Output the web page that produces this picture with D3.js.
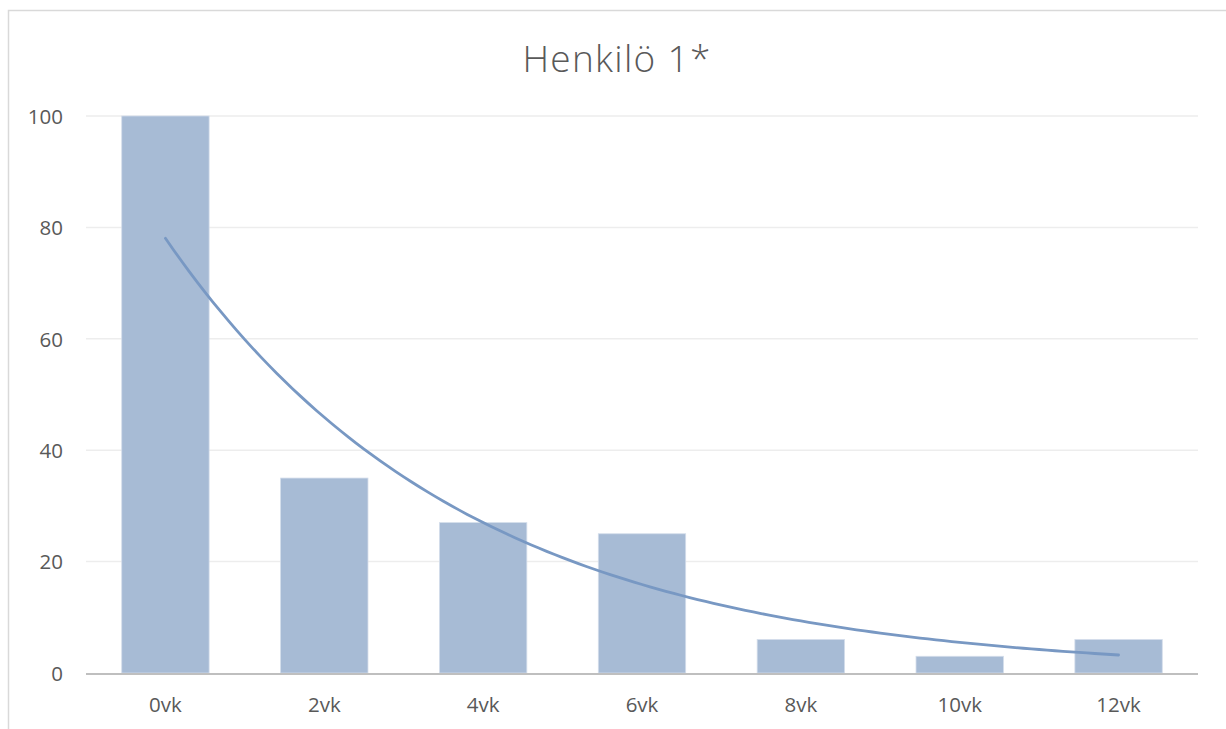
<!DOCTYPE html>
<html>
<head>
<meta charset="utf-8">
<script src="https://cdn.jsdelivr.net/npm/d3@7"></script>
<style>
  html, body { margin: 0; padding: 0; background: #fff; }
  svg { display: block; }
</style>
</head>
<body>
<svg id="chart" width="1226" height="729"></svg>
<script>
// Weekly measurements for person 1
const title = "Henkilö 1*";
const categories = ["0vk", "2vk", "4vk", "6vk", "8vk", "10vk", "12vk"];
const values = [100, 35, 27, 25, 6, 3, 6];
const yTicks = [0, 20, 40, 60, 80, 100];

const W = 1226, H = 729;
const margin = { left: 86, right: 28, top: 116, bottom: 56 };
const textColor = "#595959";
const font = "'Open Sans', 'Noto Sans', sans-serif";

const svg = d3.select("#chart");

// outer chart frame (top and left edges visible)
svg.append("path")
  .attr("d", `M8.5,${H} V10.5 H${W}`)
  .attr("fill", "none")
  .attr("stroke", "#D9D9D9")
  .attr("stroke-width", 1.5);

const x = d3.scaleBand()
  .domain(categories)
  .range([margin.left, W - margin.right])
  .paddingInner(0.45)
  .paddingOuter(0.225);

const y = d3.scaleLinear()
  .domain([0, 100])
  .range([H - margin.bottom, margin.top]);

// horizontal gridlines
svg.append("g")
  .selectAll("line")
  .data(yTicks.filter(d => d > 0))
  .join("line")
  .attr("x1", margin.left)
  .attr("x2", W - margin.right)
  .attr("y1", d => y(d))
  .attr("y2", d => y(d))
  .attr("stroke", "#EDEDED")
  .attr("stroke-width", 1.5);

// bars
svg.append("g")
  .selectAll("rect")
  .data(values)
  .join("rect")
  .attr("x", (d, i) => x(categories[i]))
  .attr("width", x.bandwidth())
  .attr("y", d => y(d))
  .attr("height", d => y(0) - y(d))
  .attr("fill", "#A7BBD5")
  .attr("stroke", "#D3DDEA")
  .attr("stroke-width", 0.8);

// baseline
svg.append("line")
  .attr("x1", margin.left)
  .attr("x2", W - margin.right)
  .attr("y1", y(0) + 1)
  .attr("y2", y(0) + 1)
  .attr("stroke", "#BFBFBF")
  .attr("stroke-width", 2.2);

// exponential trendline: least-squares fit of ln(value) against period index 1..n
const n = values.length;
const xs = values.map((_, i) => i + 1);
const ls = values.map(v => Math.log(v));
const mx = d3.mean(xs), ml = d3.mean(ls);
const b = d3.sum(xs.map((xi, i) => (xi - mx) * (ls[i] - ml))) / d3.sum(xs.map(xi => (xi - mx) ** 2));
const a = Math.exp(ml - b * mx);
const step = x.step();
const x0 = x(categories[0]) + x.bandwidth() / 2;
const trend = d3.range(1, n + 0.001, 0.05).map(t => [x0 + (t - 1) * step, a * Math.exp(b * t)]);

svg.append("path")
  .datum(trend)
  .attr("fill", "none")
  .attr("stroke", "#7898C3")
  .attr("stroke-width", 2.8)
  .attr("stroke-linecap", "round")
  .attr("d", d3.line().x(d => d[0]).y(d => y(d[1])).curve(d3.curveLinear));

// y axis labels
const yAxis = d3.axisLeft(y).tickValues(yTicks).tickSize(0).tickPadding(0);
const gy = svg.append("g")
  .attr("transform", `translate(63,0)`)
  .call(yAxis);
gy.select(".domain").remove();
gy.selectAll("text")
  .attr("fill", textColor)
  .attr("font-family", font)
  .attr("font-size", 20.5)
  .attr("dy", "0.36em");

// x axis labels
const xAxis = d3.axisBottom(x).tickSize(0).tickPadding(0);
const gx = svg.append("g")
  .attr("transform", `translate(0,712)`)
  .call(xAxis);
gx.select(".domain").remove();
gx.selectAll("text")
  .attr("fill", textColor)
  .attr("font-family", font)
  .attr("font-size", 20.5)
  .attr("y", 0)
  .attr("dy", 0);

// title
svg.append("text")
  .attr("x", 617)
  .attr("y", 72)
  .attr("text-anchor", "middle")
  .attr("fill", textColor)
  .attr("font-family", font)
  .attr("font-weight", 300)
  .attr("font-size", 37)
  .attr("letter-spacing", 1.3)
  .text(title);
</script>
</body>
</html>
